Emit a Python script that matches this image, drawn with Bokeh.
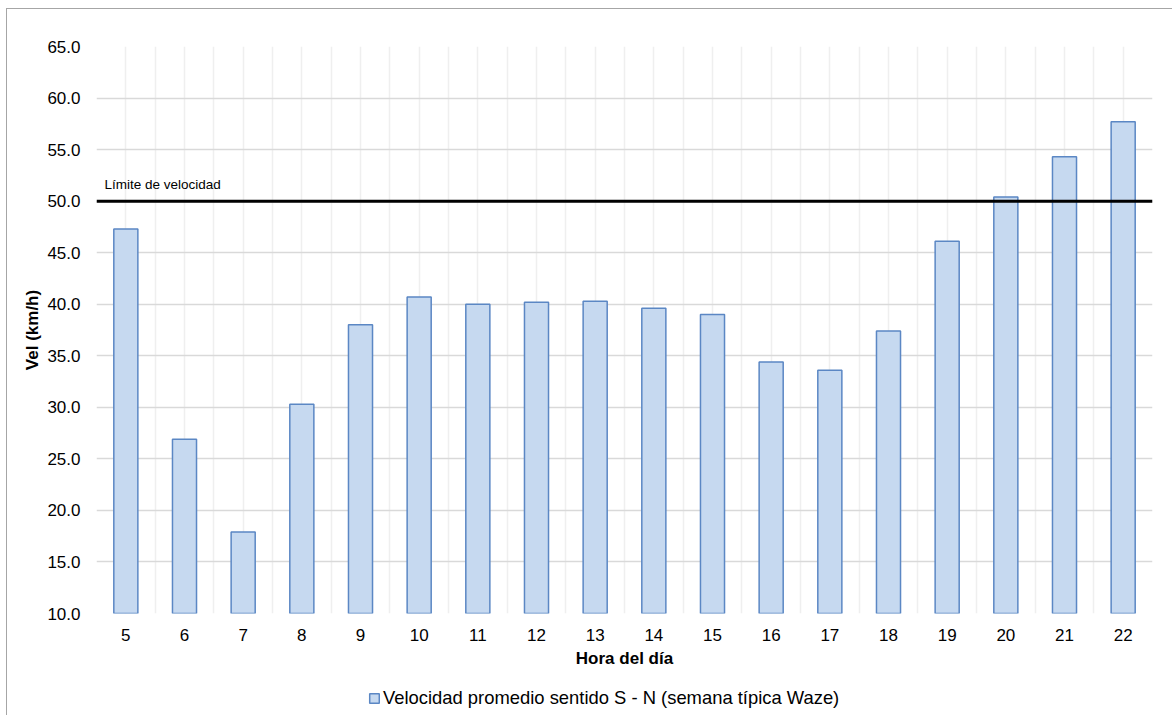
from bokeh.plotting import figure
from bokeh.layouts import column
from bokeh.models import (FixedTicker, Span, Label, Legend, LegendItem,
                          ColumnDataSource, Range1d, NumeralTickFormatter)
from bokeh.embed import file_html
from bokeh.resources import INLINE

# Average speed by hour of day (S - N direction, typical Waze week)
hours = [5, 6, 7, 8, 9, 10, 11, 12, 13, 14, 15, 16, 17, 18, 19, 20, 21, 22]
speed = [47.3, 26.9, 17.9, 30.3, 38.0, 40.7, 40.0, 40.2, 40.3, 39.6, 39.0,
         34.4, 33.6, 37.4, 46.1, 50.4, 54.3, 57.7]
speed_limit = 50.0
y_ticks = [10, 15, 20, 25, 30, 35, 40, 45, 50, 55, 60, 65]
series_name = "Velocidad promedio sentido S - N (semana típica Waze)"

FONT = "Liberation Sans"
BAR_FILL = "#c6d9f0"
BAR_LINE = "#5b87c4"

p = figure(frame_width=1056, frame_height=567, output_backend="svg",
           toolbar_location=None,
           x_range=Range1d(hours[0] - 0.5, hours[-1] + 0.5),
           y_range=Range1d(y_ticks[0], y_ticks[-1]),
           min_border_left=89, min_border_right=20, min_border_top=37,
           min_border_bottom=0)
p.outline_line_color = None
p.background_fill_color = "white"

src = ColumnDataSource(dict(x=hours, top=speed))
p.vbar(x="x", top="top", bottom=y_ticks[0], width=0.41, source=src,
       fill_color=BAR_FILL, line_color=BAR_LINE, line_width=1.5)

# Speed limit reference line
p.add_layout(Span(location=speed_limit, dimension="width", line_color="black",
                  line_width=3))
p.add_layout(Label(x=hours[0] - 0.5, y=speed_limit, x_offset=8, y_offset=9,
                   text="Límite de velocidad", text_font=FONT,
                   text_font_size="13.5px", text_color="#000000"))

# Axes
p.xaxis.ticker = FixedTicker(ticks=hours)
p.yaxis.ticker = FixedTicker(ticks=y_ticks)
p.yaxis.formatter = NumeralTickFormatter(format="0.0")
for ax in (p.xaxis[0], p.yaxis[0]):
    ax.axis_line_color = None
    ax.major_tick_line_color = None
    ax.minor_tick_line_color = None
    ax.major_label_text_font = FONT
    ax.major_label_text_font_size = "17px"
    ax.major_label_text_color = "#000000"
    ax.axis_label_text_font = FONT
    ax.axis_label_text_font_style = "bold"
    ax.axis_label_text_font_size = "17px"
    ax.axis_label_text_color = "#000000"
p.xaxis.axis_label = "Hora del día"
p.yaxis.axis_label = "Vel (km/h)"
p.xaxis.major_label_standoff = 9
p.xaxis.axis_label_standoff = 5
p.yaxis.major_label_standoff = 10
p.yaxis.axis_label_standoff = 2

# Grid: light verticals every half hour, grey horizontals every 5 km/h
half_steps = [h - 0.5 for h in hours] + hours + [hours[-1] + 0.5]
p.xgrid.ticker = FixedTicker(ticks=sorted(half_steps))
p.xgrid.grid_line_color = "#efefef"
p.xgrid.grid_line_width = 1.5
p.ygrid.grid_line_color = "#d9d9d9"
p.ygrid.grid_line_width = 1.5

# Legend strip below the chart; its key renderer sits outside the visible range
lg = figure(width=1165, height=47, output_backend="svg", toolbar_location=None,
            x_range=Range1d(0, 1), y_range=Range1d(0, 1),
            x_axis_location=None, y_axis_location=None, min_border=0)
lg.grid.visible = False
lg.outline_line_color = None
key = lg.vbar(x=[-10], top=[-10], bottom=-20, width=0.4, fill_color=BAR_FILL,
              line_color=BAR_LINE, line_width=1.5)
legend = Legend(items=[LegendItem(label=series_name, renderers=[key])],
                orientation="horizontal", location=(272, 8),
                label_text_font=FONT, label_text_font_size="18.4px",
                label_text_color="#000000", border_line_color=None,
                background_fill_alpha=0,
                glyph_width=12, glyph_height=12, label_standoff=3,
                padding=0, margin=0)
lg.add_layout(legend, "center")

page = column(p, lg, spacing=0)
page.margin = (8, 0, 0, 6)
page.styles = {"border-left": "1px solid #a6a6a6",
               "border-top": "1px solid #a6a6a6"}

open("out.html", "w").write(file_html(page, INLINE))
